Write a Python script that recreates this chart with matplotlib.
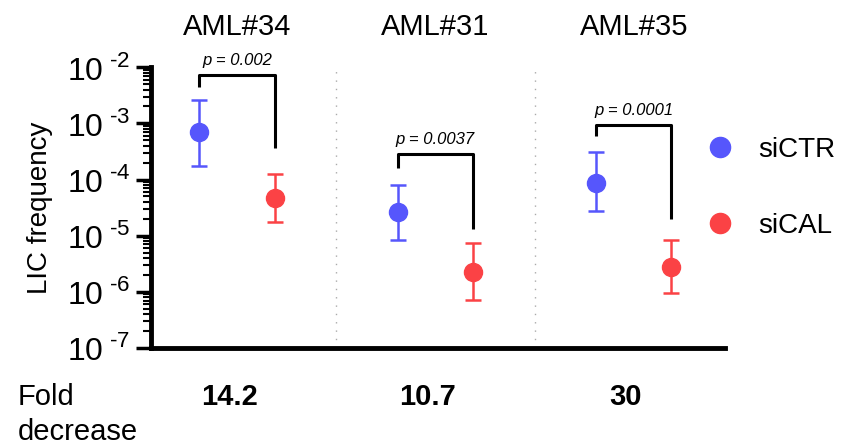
import matplotlib.pyplot as plt
import numpy as np
from matplotlib.lines import Line2D
from matplotlib.ticker import LogLocator, NullFormatter

plt.rcParams['font.family'] = ['Liberation Sans', 'DejaVu Sans']
plt.rcParams['mathtext.fontset'] = 'custom'
plt.rcParams['mathtext.rm'] = 'Liberation Sans'

# data
samples = ["AML#34", "AML#31", "AML#35"]
ctr_mean = [7.0e-4, 2.6e-5, 8.8e-5]
ctr_hi = [2.6e-3, 7.9e-5, 3.1e-4]
ctr_lo = [1.75e-4, 8.5e-6, 2.7e-5]
cal_mean = [4.7e-5, 2.3e-6, 2.8e-6]
cal_hi = [1.26e-4, 7.4e-6, 8.3e-6]
cal_lo = [1.75e-5, 7.2e-7, 9.6e-7]
p_values = ["0.002", "0.0037", "0.0001"]
bracket_top = [7.2e-3, 2.9e-4, 9.2e-4]
bracket_left = [4.5e-3, 1.6e-4, 6.0e-4]
bracket_right = [3.6e-4, 1.3e-5, 2.0e-5]
fold = ["14.2", "10.7", "30"]

blue = "#5656fc"
red = "#fb4245"

fig = plt.figure(figsize=(8.43, 4.45), dpi=100)
ax = fig.add_axes([0.179, 0.218, 0.681, 0.631])

x = np.arange(len(samples))
off = 0.19

def errs(m, lo, hi):
    m = np.array(m)
    return [m - np.array(lo), np.array(hi) - m]

ax.errorbar(x - off, ctr_mean, yerr=errs(ctr_mean, ctr_lo, ctr_hi), fmt='o',
            color=blue, ms=13, capsize=6, elinewidth=1.8, capthick=1.8)
ax.errorbar(x + off, cal_mean, yerr=errs(cal_mean, cal_lo, cal_hi), fmt='o',
            color=red, ms=13, capsize=6, elinewidth=1.8, capthick=1.8)

for i in range(len(samples)):
    ax.plot([i - off, i - off, i + off, i + off],
            [bracket_left[i], bracket_top[i], bracket_top[i], bracket_right[i]],
            color='black', lw=2.2, solid_capstyle='butt')
    ax.text(i, bracket_top[i] * 1.5, f"p = {p_values[i]}", ha='center', va='baseline',
            fontsize=12, style='italic')
    ax.text(i, 1.115, samples[i], transform=ax.get_xaxis_transform(), ha='center',
            va='baseline', fontsize=21)
    ax.text(i - 0.04, -0.202, fold[i], transform=ax.get_xaxis_transform(), ha='center',
            va='baseline', fontsize=21, fontweight='bold')

for xd in [0.5, 1.5]:
    ax.axvline(xd, color='#aaaaaa', ls=(0, (1, 5)), lw=1)

ax.set_yscale('log')
ax.set_ylim(1e-7, 1e-2)
ax.set_xlim(-0.435, 2.46)
ax.set_xticks([])
ax.yaxis.set_minor_locator(LogLocator(base=10, subs=np.arange(2, 10)))
ax.yaxis.set_minor_formatter(NullFormatter())
ax.set_yticks([1e-7, 1e-6, 1e-5, 1e-4, 1e-3, 1e-2])
ax.set_yticklabels([f"$10^{{\\text{{ -{-e}}}}}$" for e in range(-7, -1)], fontsize=23)
ax.tick_params(axis='y', which='major', length=11, width=2.5, pad=4)
ax.tick_params(axis='y', which='minor', length=6, width=1.5)
for s in ['top', 'right']:
    ax.spines[s].set_visible(False)
ax.spines['left'].set_linewidth(3.5)
ax.spines['bottom'].set_linewidth(3.5)
ax.set_ylabel("LIC frequency", fontsize=20, labelpad=10)

fig.text(0.021, 0.09, "Fold", fontsize=21, va='baseline')
fig.text(0.021, 0.011, "decrease", fontsize=21, va='baseline')

handles = [Line2D([], [], ls='none', marker='o', ms=14.5, color=blue),
           Line2D([], [], ls='none', marker='o', ms=14.5, color=red)]
ax.legend(handles, ["siCTR", "siCAL"], loc='center left', bbox_to_anchor=(0.924, 0.57),
          frameon=False, fontsize=20, handletextpad=0.85, labelspacing=1.8,
          handlelength=1.0)

fig.savefig("out.png", dpi=100)
